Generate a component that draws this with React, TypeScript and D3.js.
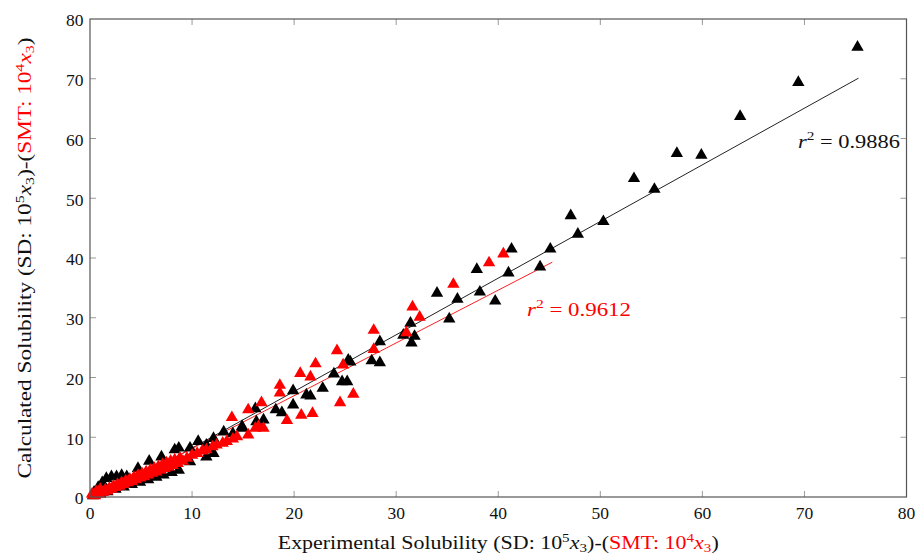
import React from "react";
import * as d3 from "d3";

// ---- data ----
const xTicks = [0, 10, 20, 30, 40, 50, 60, 70, 80];
const yTicks = [0, 10, 20, 30, 40, 50, 60, 70, 80];

// SD series (black), [experimental, calculated]
const sdPoints: [number, number][] = [
  [75.2, 75.3], [69.4, 69.4], [63.7, 63.7], [57.5, 57.5], [59.9, 57.2], [53.3, 53.3], [55.3, 51.5],
  [47.1, 47.1], [50.3, 46.1], [47.8, 44.0], [45.1, 41.5], [41.3, 41.5], [37.9, 38.1], [41.0, 37.5],
  [44.1, 38.5], [34.0, 34.1], [36.0, 33.1], [38.2, 34.3], [39.7, 32.8], [35.2, 29.8], [31.4, 29.1],
  [30.7, 27.1], [31.8, 26.9], [31.5, 25.8], [28.4, 26.0], [27.6, 22.8], [28.4, 22.5], [25.5, 22.6],
  [25.3, 22.9], [23.9, 20.6], [24.7, 19.3], [25.2, 19.3], [22.8, 18.2], [19.9, 17.8], [21.2, 17.1],
  [21.6, 16.9], [19.9, 15.4], [18.2, 14.6], [18.8, 14.1], [16.2, 14.8], [17.0, 12.9], [16.3, 12.6],
  [14.9, 11.8], [14.9, 11.5], [14.0, 10.6], [13.1, 10.9], [12.1, 9.8], [10.6, 9.3], [11.4, 8.7],
  [9.8, 8.2], [8.7, 8.2], [8.3, 7.9], [7.0, 6.7], [5.8, 6.0], [4.7, 4.8], [3.6, 3.4], [3.1, 3.6],
  [2.6, 3.4], [2.1, 3.4], [1.6, 3.1], [1.2, 2.4], [0.8, 1.6], [0.4, 0.8],
  [11.4, 6.7], [12.1, 7.3], [9.8, 5.9], [8.7, 4.5], [8.0, 4.1], [7.2, 3.7], [6.5, 3.3], [5.7, 2.9],
  [4.9, 2.5], [4.1, 2.1], [3.3, 1.7], [2.5, 1.3], [1.7, 0.9], [1.0, 0.5], [0.3, 0.2],
];

// SMT series (red), [experimental, calculated]
const smtPoints: [number, number][] = [
  [40.5, 40.7], [39.1, 39.2], [35.6, 35.6], [31.6, 31.8], [32.3, 30.1], [27.8, 27.9], [31.0, 27.5],
  [27.8, 24.7], [24.2, 24.5], [22.1, 22.3], [20.6, 20.7], [21.6, 20.1], [18.6, 18.7], [18.6, 17.4],
  [24.8, 22.1], [25.8, 17.2], [24.5, 15.8], [16.8, 15.8], [15.5, 14.6], [13.9, 13.3], [19.3, 12.8],
  [20.7, 13.7], [21.8, 14.0], [17.0, 11.5], [16.2, 11.5], [15.5, 10.4], [14.4, 10.1], [13.4, 9.3],
  [12.4, 8.7], [11.4, 7.9], [10.5, 7.3], [9.5, 6.5], [8.5, 5.6], [10.0, 7.0], [11.0, 7.7],
  [12.0, 8.4], [13.0, 9.0], [14.0, 9.7], [16.5, 11.8],
  [0.2, 0.5], [0.6, 0.9], [1.0, 1.3],
  [0.3, 0.3], [0.7, 0.6], [1.1, 0.9], [1.5, 1.2], [1.9, 1.5], [2.3, 1.8], [2.7, 2.1], [3.1, 2.4],
  [3.5, 2.7], [3.9, 3.0], [4.3, 3.3], [4.7, 3.6], [5.1, 3.9], [5.5, 4.2], [5.9, 4.5], [6.3, 4.8],
  [6.7, 5.1], [7.1, 5.4], [7.5, 5.7], [7.9, 6.0], [8.3, 6.2], [8.8, 6.5],
  [0.5, 0.2], [0.9, 0.5], [1.3, 0.8], [1.7, 1.0], [2.1, 1.3], [2.5, 1.6], [2.9, 1.8], [3.3, 2.1],
  [3.7, 2.4], [4.1, 2.6], [4.5, 2.9], [4.9, 3.2], [5.3, 3.4], [5.7, 3.7], [6.1, 4.0], [6.5, 4.2],
  [6.9, 4.5], [7.3, 4.8], [7.7, 5.0], [8.1, 5.3], [8.6, 5.6], [9.1, 6.0],
];

// regression lines: [x0, y0], [x1, y1]
const sdFit: [number, number][] = [[1.4, 0.03], [75.3, 70.1]];
const smtFit: [number, number][] = [[0.8, 0.0], [45.3, 39.3]];

const sdR2 = "0.9886";
const smtR2 = "0.9612";

const W = 919;
const H = 556;
const M = { left: 90, right: 906.5, top: 19, bottom: 497 };
const FONT = "'Liberation Serif', 'DejaVu Serif', serif";

export default function App() {
  const x = d3.scaleLinear().domain([0, 80]).range([M.left, M.right]);
  const y = d3.scaleLinear().domain([0, 80]).range([M.bottom, M.top]);
  const tri = d3.symbol(d3.symbolTriangle, 66)() as string;
  const line = d3.line<[number, number]>().x((d) => x(d[0])).y((d) => y(d[1]));
  const tickColor = "#9a9a9a";
  const frameColor = "#555";

  const sup = (t: string, fill?: string) => (
    <>
      <tspan dy={-7} fontSize={13} fill={fill}>{t}</tspan>
      <tspan dy={7} fontSize={1}>{"\u200A"}</tspan>
    </>
  );
  const sub = (t: string, fill?: string) => (
    <>
      <tspan dy={3} fontSize={13} fill={fill}>{t}</tspan>
      <tspan dy={-3} fontSize={1}>{"\u200A"}</tspan>
    </>
  );
  const labelText = (lead: string) => (
    <>
      <tspan>{lead + " Solubility (SD: 10"}</tspan>
      {sup("5")}
      <tspan fontStyle="italic">x</tspan>
      {sub("3")}
      <tspan>)-(</tspan>
      <tspan fill="#ff0000">SMT: 10</tspan>
      {sup("4", "#ff0000")}
      <tspan fill="#ff0000" fontStyle="italic">x</tspan>
      {sub("3", "#ff0000")}
      <tspan>)</tspan>
    </>
  );

  return (
    <svg width={W} height={H} style={{ display: "block", position: "absolute", left: 0, top: 0 }} fontFamily={FONT}>
      <rect width={W} height={H} fill="#fff" />
      {/* ticks */}
      {xTicks.slice(1, -1).map((t) => (
        <g key={"xt" + t} stroke={tickColor} strokeWidth={1}>
          <line x1={x(t)} x2={x(t)} y1={M.bottom} y2={M.bottom - 6} />
          <line x1={x(t)} x2={x(t)} y1={M.top} y2={M.top + 6} />
        </g>
      ))}
      {yTicks.slice(1, -1).map((t) => (
        <g key={"yt" + t} stroke={tickColor} strokeWidth={1}>
          <line x1={M.left} x2={M.left + 6} y1={y(t)} y2={y(t)} />
          <line x1={M.right} x2={M.right - 6} y1={y(t)} y2={y(t)} />
        </g>
      ))}
      {/* fit lines */}
      <path d={line(sdFit) as string} stroke="#222" strokeWidth={1} fill="none" />
      <path d={line(smtFit) as string} stroke="#ff2020" strokeWidth={1} fill="none" />
      {/* points */}
      {sdPoints.map((p, i) => (
        <path key={"sd" + i} d={tri} transform={`translate(${x(p[0])},${y(p[1])})`} fill="#000" />
      ))}
      {smtPoints.map((p, i) => (
        <path key={"smt" + i} d={tri} transform={`translate(${x(p[0])},${y(p[1])})`} fill="#ff0000" />
      ))}
      {/* frame */}
      <rect x={M.left} y={M.top} width={M.right - M.left} height={M.bottom - M.top} fill="none" stroke={frameColor} strokeWidth={1.2} />
      {/* tick labels */}
      {xTicks.map((t) => (
        <text key={"xl" + t} x={x(t)} y={518.5} textAnchor="middle" fontSize={17.5} fill="#111">{t}</text>
      ))}
      {yTicks.map((t) => (
        <text key={"yl" + t} x={83.5} y={y(t) + 7.3} textAnchor="end" fontSize={17.5} fill="#111">{t}</text>
      ))}
      {/* r2 labels */}
      <text x={798} y={147.5} fontSize={19} fill="#111" textLength={102} lengthAdjust="spacingAndGlyphs">
        <tspan fontStyle="italic">r</tspan>
        <tspan dy={-8} fontSize={13}>2</tspan>
        <tspan dy={8}>{" = " + sdR2}</tspan>
      </text>
      <text x={527} y={315.5} fontSize={19} fill="#ff0000" textLength={104} lengthAdjust="spacingAndGlyphs">
        <tspan fontStyle="italic">r</tspan>
        <tspan dy={-8} fontSize={13}>2</tspan>
        <tspan dy={8}>{" = " + smtR2}</tspan>
      </text>
      {/* axis labels */}
      <text x={(M.left + M.right) / 2} y={549} textAnchor="middle" fontSize={19} fill="#111" textLength={441} lengthAdjust="spacingAndGlyphs">
        {labelText("Experimental")}
      </text>
      <text transform={`translate(30.5,${(M.top + M.bottom) / 2}) rotate(-90)`} textAnchor="middle" fontSize={19} fill="#111" textLength={441} lengthAdjust="spacingAndGlyphs">
        {labelText("Calculated")}
      </text>
    </svg>
  );
}
